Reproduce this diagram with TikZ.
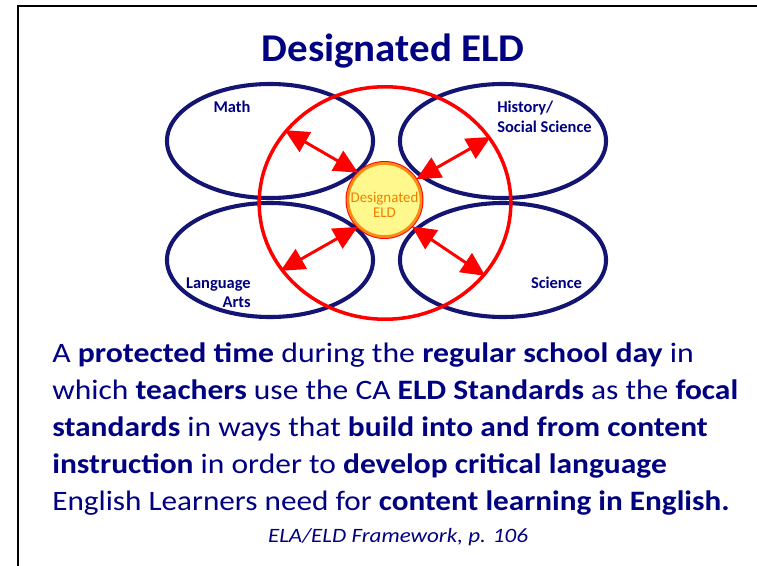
\documentclass[tikz,border=0pt]{standalone}
\usepackage{fontspec}
\setmainfont{Carlito}
\usetikzlibrary{arrows.meta,shapes.geometric}
\definecolor{eldnavy}{RGB}{0,0,128}
\definecolor{ovalblue}{RGB}{20,20,115}
\definecolor{ringred}{RGB}{255,0,0}
\definecolor{eldyellow}{RGB}{255,248,140}
\definecolor{eldorange}{RGB}{250,140,20}
\definecolor{eldtextorange}{RGB}{238,128,0}
% text in the reference is set a little wider than the font
\newcommand\widetext[2]{\scalebox{#1}[1]{#2}}
\tikzset{
  subject/.style={ellipse, draw=ovalblue, line width=2.9pt, minimum width=5.15cm, minimum height=2.85cm, inner sep=0pt},
  lbl/.style={anchor=base, inner sep=0pt, text=eldnavy, font=\fontsize{11.7}{14}\selectfont\bfseries},
  linkarrow/.style={{Triangle[length=17pt,width=16pt]}-{Triangle[length=17pt,width=16pt]}, draw=ringred, line width=2.1pt},
  bodyline/.style={anchor=base west, inner sep=0pt, text=eldnavy, font=\fontsize{20}{26}\selectfont},
}
\begin{document}
\begin{tikzpicture}[x=0.025cm,y=-0.025cm]
  \useasboundingbox (0,0) rectangle (757,566);
  \draw[line width=1.6pt] (18,566) -- (18,6) -- (757,6);
  \node[anchor=base, inner sep=0pt, text=eldnavy, font=\fontsize{28}{32}\selectfont\bfseries] (title) at (393,61) {\widetext{1.04}{Designated ELD}};
  % four subject ovals
  \node[subject] (math) at (270,141) {};
  \node[subject] (hist) at (503,141) {};
  \node[subject] (lang) at (270,260) {};
  \node[subject] (sci) at (503,260) {};
  \node[ellipse, draw=ringred, line width=2.5pt, minimum width=6.29cm, minimum height=5.81cm, inner sep=0pt] (ring) at (385,203) {};
  \node[circle, preaction={draw=ringred, line width=3.4pt}, fill=eldyellow, draw=eldorange, line width=2pt, minimum size=1.83cm, inner sep=0pt] (eld) at (384.5,200) {};
  \node[inner sep=0pt, align=center, text=eldtextorange, font=\fontsize{10.6}{11}\selectfont] (eldtext) at (384.5,205) {Designated\\ELD};
  \node[lbl] (mathlbl) at (232,112) {Math};
  \node[lbl, anchor=base west] (histlbl) at (497,112) {History/};
  \node[lbl, anchor=base west] (soclbl) at (497,132) {Social Science};
  \node[lbl, anchor=base east] (langlbl) at (251,288) {Language};
  \node[lbl, anchor=base east] (artslbl) at (251,307) {Arts};
  \node[lbl] (scilbl) at (556.5,288) {Science};
  % arrows between the centre and the ring
  \draw[linkarrow] (eld.134.5) -- (ring.144);
  \draw[linkarrow] (eld.33) -- (ring.32);
  \draw[linkarrow] (eld.225) -- (ring.213);
  \draw[linkarrow] (eld.316) -- (ring.324);
  % quotation
  \node[bodyline] (line1) at (52,362) {\widetext{1.13}{A \textbf{protected time} during the \textbf{regular school day} in}};
  \node[bodyline] (line2) at (52,399) {\widetext{1.12}{which \textbf{teachers} use the CA \textbf{ELD Standards} as the \textbf{focal}}};
  \node[bodyline] (line3) at (52,436) {\widetext{1.12}{\textbf{standards} in ways that \textbf{build into and from content}}};
  \node[bodyline] (line4) at (52,473) {\widetext{1.12}{\textbf{instruction} in order to \textbf{develop critical language}}};
  \node[bodyline] (line5) at (52,510) {\widetext{1.11}{English Learners need for \textbf{content learning in English.}}};
  \node[anchor=base, inner sep=0pt, text=eldnavy, font=\fontsize{14.5}{16}\selectfont\itshape] (source) at (398,542) {\widetext{1.13}{ELA/ELD Framework, p. 106}};
\end{tikzpicture}
\end{document}
